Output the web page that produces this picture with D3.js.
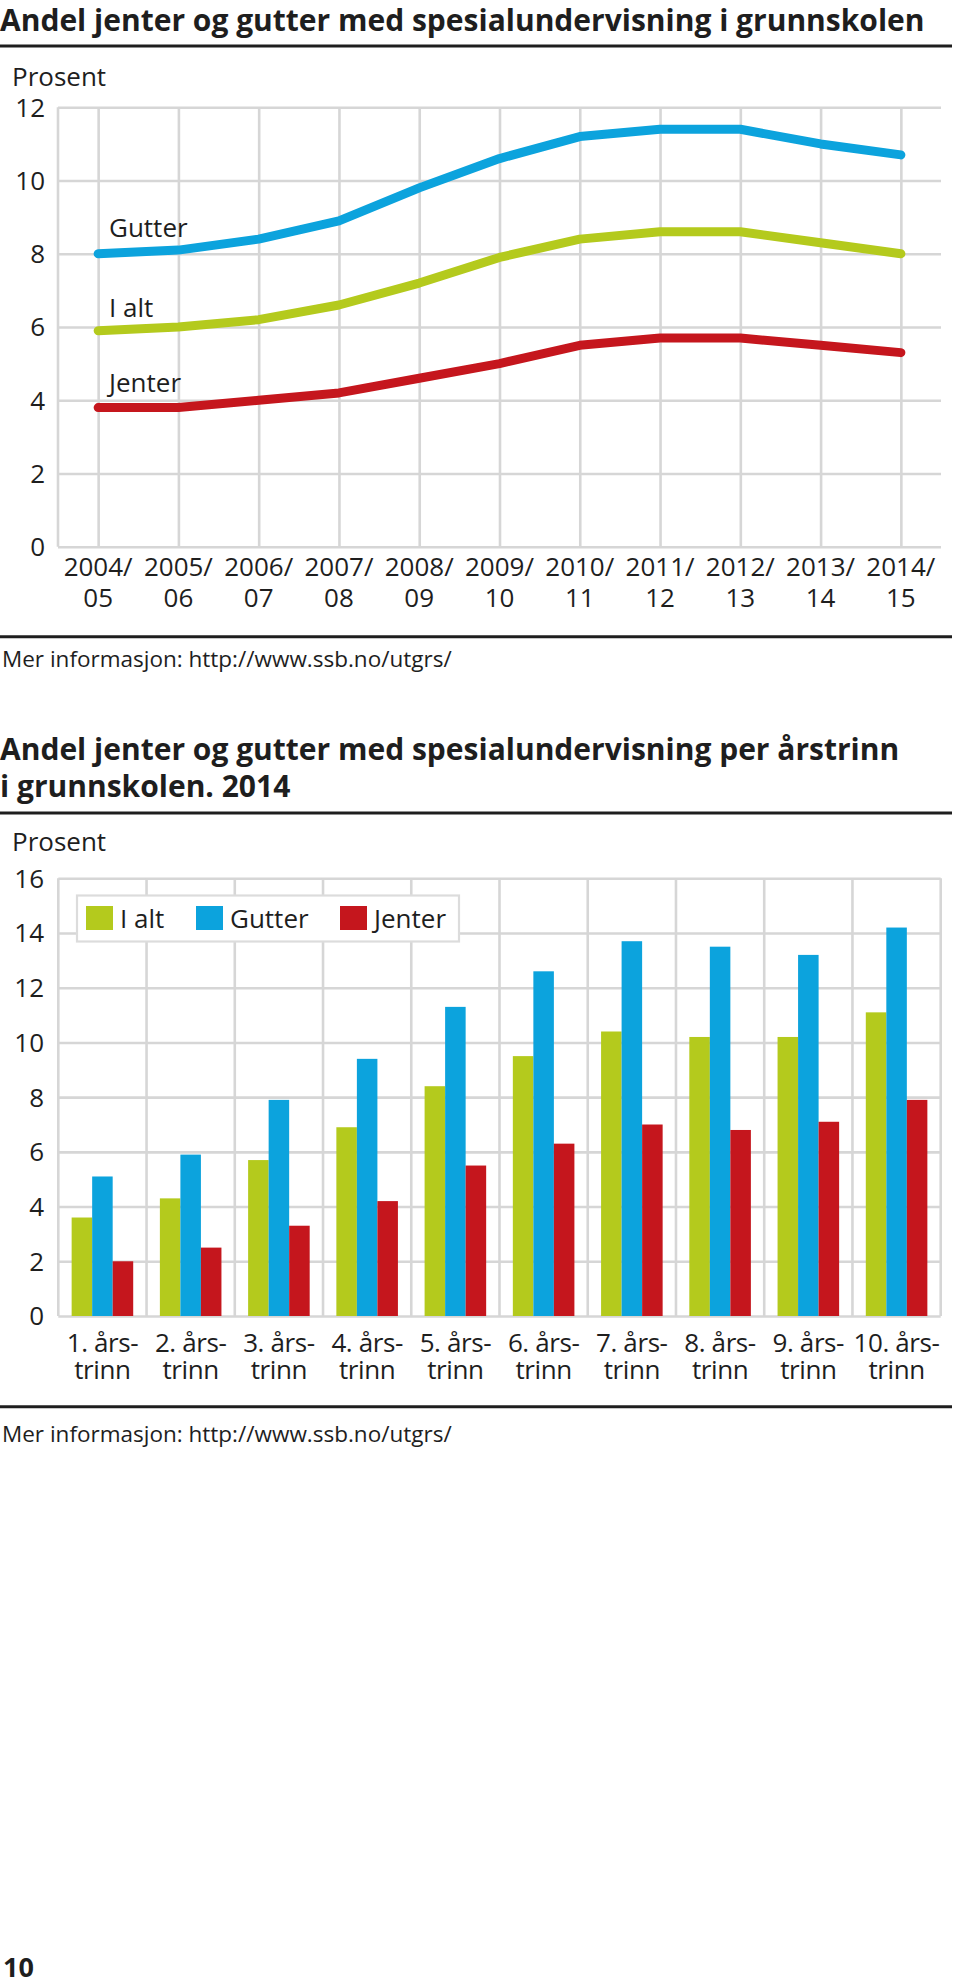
<!DOCTYPE html>
<html>
<head>
<meta charset="utf-8">
<script src="https://cdn.jsdelivr.net/npm/d3@7/dist/d3.min.js"></script>
<style>
  html, body { margin: 0; padding: 0; background: #fff; }
  svg { display: block; }
  text { font-family: "Open Sans", "Noto Sans", sans-serif; fill: #1e1e1e; }
</style>
</head>
<body>
<svg id="chart" width="960" height="1986"></svg>
<script>
// ---------- Data: chart 1 ----------
const periods = ["2004/05","2005/06","2006/07","2007/08","2008/09","2009/10","2010/11","2011/12","2012/13","2013/14","2014/15"];
const periodLine1 = ["2004/","2005/","2006/","2007/","2008/","2009/","2010/","2011/","2012/","2013/","2014/"];
const periodLine2 = ["05","06","07","08","09","10","11","12","13","14","15"];
const gutterLine = [8.0, 8.1, 8.4, 8.9, 9.8, 10.6, 11.2, 11.4, 11.4, 11.0, 10.7];
const ialtLine   = [5.9, 6.0, 6.2, 6.6, 7.2, 7.9, 8.4, 8.6, 8.6, 8.3, 8.0];
const jenterLine = [3.8, 3.8, 4.0, 4.2, 4.6, 5.0, 5.5, 5.7, 5.7, 5.5, 5.3];
const yTicks1 = [0, 2, 4, 6, 8, 10, 12];

// ---------- Data: chart 2 ----------
const grades = ["1","2","3","4","5","6","7","8","9","10"];
const gradeLine1 = ["1. års-","2. års-","3. års-","4. års-","5. års-","6. års-","7. års-","8. års-","9. års-","10. års-"];
const gradeLine2 = ["trinn","trinn","trinn","trinn","trinn","trinn","trinn","trinn","trinn","trinn"];
const seriesNames = ["I alt","Gutter","Jenter"];
const ialtBars   = [3.6, 4.3, 5.7, 6.9, 8.4, 9.5, 10.4, 10.2, 10.2, 11.1];
const gutterBars = [5.1, 5.9, 7.9, 9.4, 11.3, 12.6, 13.7, 13.5, 13.2, 14.2];
const jenterBars = [2.0, 2.5, 3.3, 4.2, 5.5, 6.3, 7.0, 6.8, 7.1, 7.9];
const yTicks2 = [0, 2, 4, 6, 8, 10, 12, 14, 16];

// ---------- Styles ----------
const GREEN = "#b4ca1d", BLUE = "#0ca3dd", RED = "#c5161d";
const GRID = "#d6d6d6", INK = "#1e1e1e";
const FS = 26;

const svg = d3.select("#chart");

// ================= Chart 1 =================
svg.append("text").attr("x", 0).attr("y", 31)
  .attr("font-size", 30).attr("font-weight", 700)
  .text("Andel jenter og gutter med spesialundervisning i grunnskolen");
svg.append("line").attr("x1", 0).attr("x2", 952).attr("y1", 46).attr("y2", 46)
  .attr("stroke", INK).attr("stroke-width", 3);
svg.append("text").attr("x", 12).attr("y", 86).attr("font-size", FS).text("Prosent");

const x1 = d3.scalePoint().domain(periods).range([58, 941]).padding(0.5);
const y1 = d3.scaleLinear().domain([0, 12]).range([546.7, 107.3]);

const g1 = svg.append("g");
g1.append("g").attr("transform", "translate(58,0)")
  .call(d3.axisLeft(y1).tickValues(yTicks1).tickSize(-(941 - 58)).tickFormat(""))
  .call(g => g.select(".domain").remove())
  .call(g => g.selectAll("line").attr("stroke", GRID).attr("stroke-width", 2.6));
g1.append("g").attr("transform", `translate(0,${y1(0)})`)
  .call(d3.axisBottom(x1).tickSize(-(y1(0) - y1(12))).tickFormat(""))
  .call(g => g.select(".domain").remove())
  .call(g => g.selectAll("line").attr("stroke", GRID).attr("stroke-width", 2.6));
g1.append("line").attr("x1", 58).attr("x2", 58).attr("y1", y1(12)).attr("y2", y1(0))
  .attr("stroke", GRID).attr("stroke-width", 2.6);

g1.selectAll("text.yt").data(yTicks1).join("text")
  .attr("x", 45).attr("y", d => y1(d)).attr("dy", "0.36em")
  .attr("text-anchor", "end").attr("font-size", FS).text(d => d);

const xl1 = g1.selectAll("text.xt").data(periods).join("text")
  .attr("text-anchor", "middle").attr("font-size", FS);
xl1.append("tspan").attr("x", d => x1(d)).attr("y", 576).text((d, i) => periodLine1[i]);
xl1.append("tspan").attr("x", d => x1(d)).attr("y", 607).text((d, i) => periodLine2[i]);

const lineGen = d3.line().x((d, i) => x1(periods[i])).y(d => y1(d));
[[ialtLine, GREEN], [jenterLine, RED], [gutterLine, BLUE]].forEach(([vals, col]) => {
  g1.append("path").datum(vals).attr("d", lineGen)
    .attr("fill", "none").attr("stroke", col).attr("stroke-width", 9)
    .attr("stroke-linecap", "round").attr("stroke-linejoin", "round");
});
g1.append("text").attr("x", 109).attr("y", 237).attr("font-size", FS).text("Gutter");
g1.append("text").attr("x", 109).attr("y", 316.5).attr("font-size", FS).text("I alt");
g1.append("text").attr("x", 109).attr("y", 391.5).attr("font-size", FS).text("Jenter");

svg.append("line").attr("x1", 0).attr("x2", 952).attr("y1", 636.7).attr("y2", 636.7)
  .attr("stroke", INK).attr("stroke-width", 3);
svg.append("text").attr("x", 2).attr("y", 667).attr("font-size", 22.5).attr("fill", "#333")
  .text("Mer informasjon: http://www.ssb.no/utgrs/");

// ================= Chart 2 =================
const t2 = svg.append("text").attr("font-size", 30).attr("font-weight", 700);
t2.append("tspan").attr("x", 0).attr("y", 760).text("Andel jenter og gutter med spesialundervisning per årstrinn");
t2.append("tspan").attr("x", 0).attr("y", 797).text("i grunnskolen. 2014");
svg.append("line").attr("x1", 0).attr("x2", 952).attr("y1", 813).attr("y2", 813)
  .attr("stroke", INK).attr("stroke-width", 3);
svg.append("text").attr("x", 12).attr("y", 851).attr("font-size", FS).text("Prosent");

const x2 = d3.scaleBand().domain(grades).range([58.3, 940.7]).padding(0);
const xs = d3.scaleBand().domain(seriesNames).range([0, x2.bandwidth()]).paddingInner(0).paddingOuter(0.65);
const y2 = d3.scaleLinear().domain([0, 16]).range([1316, 878.3]);

const g2 = svg.append("g");
g2.append("g").attr("transform", "translate(58.3,0)")
  .call(d3.axisLeft(y2).tickValues(yTicks2).tickSize(-(940.7 - 58.3)).tickFormat(""))
  .call(g => g.select(".domain").remove())
  .call(g => g.selectAll("line").attr("stroke", GRID).attr("stroke-width", 2.6));
const bounds = grades.map(g => x2(g)).concat([940.7]);
g2.selectAll("line.vb").data(bounds).join("line")
  .attr("x1", d => d).attr("x2", d => d).attr("y1", y2(16)).attr("y2", y2(0))
  .attr("stroke", GRID).attr("stroke-width", 2.6);

g2.selectAll("text.yt").data(yTicks2).join("text")
  .attr("x", 44).attr("y", d => y2(d)).attr("dy", "0.36em")
  .attr("text-anchor", "end").attr("font-size", FS).text(d => d);

const barSeries = [[ialtBars, GREEN, "I alt"], [gutterBars, BLUE, "Gutter"], [jenterBars, RED, "Jenter"]];
barSeries.forEach(([vals, col, name]) => {
  g2.append("g").selectAll("rect").data(vals).join("rect")
    .attr("x", (d, i) => x2(grades[i]) + xs(name))
    .attr("width", xs.bandwidth())
    .attr("y", d => y2(d))
    .attr("height", d => y2(0) - y2(d))
    .attr("fill", col);
});

const xl2 = g2.selectAll("text.xt").data(grades).join("text")
  .attr("text-anchor", "middle").attr("font-size", FS).attr("letter-spacing", -0.4);
xl2.append("tspan").attr("x", d => x2(d) + x2.bandwidth() / 2).attr("y", 1352).text((d, i) => gradeLine1[i]);
xl2.append("tspan").attr("x", d => x2(d) + x2.bandwidth() / 2).attr("y", 1379).text((d, i) => gradeLine2[i]);

const lg = g2.append("g");
lg.append("rect").attr("x", 77).attr("y", 895.5).attr("width", 382).attr("height", 46)
  .attr("fill", "#fff").attr("stroke", "#dcdcdc").attr("stroke-width", 2.2);
const legendX = [86, 196, 340];
const legendCols = [GREEN, BLUE, RED];
seriesNames.forEach((n, i) => {
  lg.append("rect").attr("x", legendX[i]).attr("y", 906).attr("width", 27).attr("height", 24)
    .attr("fill", legendCols[i]);
  lg.append("text").attr("x", legendX[i] + 34).attr("y", 928).attr("font-size", FS).text(n);
});

svg.append("line").attr("x1", 0).attr("x2", 952).attr("y1", 1406.7).attr("y2", 1406.7)
  .attr("stroke", INK).attr("stroke-width", 3);
svg.append("text").attr("x", 2).attr("y", 1442).attr("font-size", 22.5).attr("fill", "#333")
  .text("Mer informasjon: http://www.ssb.no/utgrs/");

svg.append("text").attr("x", 3).attr("y", 1977).attr("font-size", 27).attr("font-weight", 700).text("10");
</script>
</body>
</html>
